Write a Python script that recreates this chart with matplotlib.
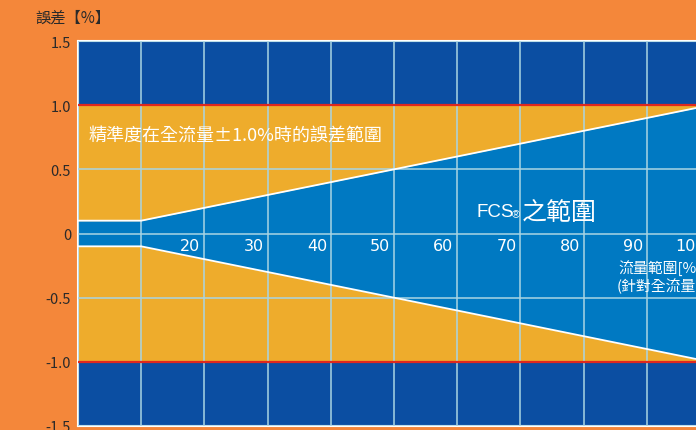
import matplotlib
matplotlib.use('Agg')
import matplotlib.pyplot as plt

plt.rcParams['font.family'] = ['Noto Sans CJK TC', 'DejaVu Sans']

# 数据
flow_ticks = [0, 10, 20, 30, 40, 50, 60, 70, 80, 90, 100]
flow_labels = [20, 30, 40, 50, 60, 70, 80, 90, 100]
err_ticks = [1.5, 1.0, 0.5, 0, -0.5, -1.0, -1.5]
err_labels = ['1.5', '1.0', '0.5', '0', '-0.5', '-1.0', '-1.5']
accuracy = 1.0
fcs_x = [0, 10, 100]
fcs_upper = [0.1, 0.1, 1.0]
fcs_lower = [-0.1, -0.1, -1.0]

bg = '#F4873A'
dark_blue = '#0B4EA2'
gold = '#EEAC2C'
fcs_blue = '#0079C2'
grid_c = '#A9D5E3'

fig = plt.figure(figsize=(6.96, 4.31), dpi=100, facecolor=bg)
# 右侧被裁掉一部分
ax = fig.add_axes([78 / 696, 4 / 431, 632 / 696, 385 / 431])
ax.set_facecolor(dark_blue)

ax.fill_between([0, 100], -accuracy, accuracy, color=gold, lw=0, zorder=1)
ax.fill_between(fcs_x, fcs_lower, fcs_upper, color=fcs_blue, lw=0, zorder=2)
ax.plot(fcs_x, fcs_upper, color='white', lw=1.3, zorder=3)
ax.plot(fcs_x, fcs_lower, color='white', lw=1.3, zorder=3)
ax.axhline(accuracy, color='#E0281E', lw=1.6, zorder=3)
ax.axhline(-accuracy, color='#E0281E', lw=1.6, zorder=3)

ax.set_xlim(0, 100)
ax.set_ylim(-1.5, 1.5)
ax.set_xticks(flow_ticks)
ax.set_yticks(err_ticks)
ax.set_xticklabels([])
ax.set_yticklabels(err_labels)
ax.tick_params(axis='both', length=0)
ax.tick_params(axis='y', labelsize=10.5, labelcolor='#2A2A2A', pad=5)
ax.grid(True, color=grid_c, lw=1.1, zorder=2.5)
ax.set_axisbelow(False)
for s in ax.spines.values():
    s.set_color('white')
    s.set_linewidth(1.5)

# x 刻度标签放在图内 0 线下方
for v in flow_labels:
    ax.text(v - 0.6, -0.035, str(v), color='white', fontsize=11.5,
            family='DejaVu Sans', ha='right', va='top', zorder=5)

fig.text(35 / 696, 1 - 18 / 431, '誤差【%】', color='#2A2A2A', fontsize=11,
         ha='left', va='center')
ax.text(1.6, 0.76, '精準度在全流量±1.0%時的誤差範圍', color='white',
        fontsize=13, ha='left', va='center', zorder=5)
ax.text(63, 0.17, 'FCS', color='white', fontsize=13.5, ha='left', va='center',
        family='Liberation Sans', zorder=5)
ax.text(68.6, 0.15, '®', color='white', fontsize=8, ha='left', va='center',
        family='Liberation Sans', zorder=5)
ax.text(70.2, 0.17, '之範圍', color='white', fontsize=18, ha='left',
        va='center', zorder=5)
ax.text(85.5, -0.265, '流量範圍[%]', color='white', fontsize=10.7, ha='left',
        va='center', zorder=5)
ax.text(85.2, -0.405, '(針對全流量)', color='white', fontsize=10.7, ha='left',
        va='center', zorder=5)

plt.savefig('out.png', dpi=100, facecolor=bg)
